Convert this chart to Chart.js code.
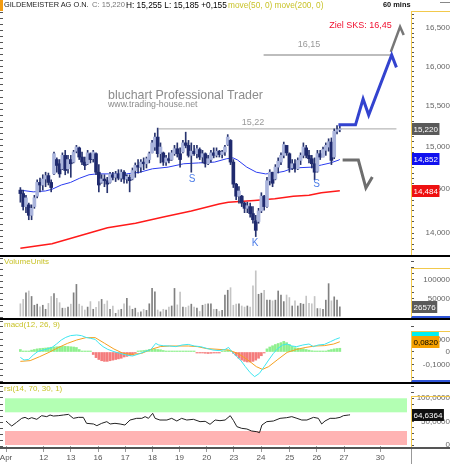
<!DOCTYPE html>
<html>
<head>
<meta charset="utf-8">
<title>Gildemeister 60 mins</title>
<script src="https://cdn.jsdelivr.net/npm/chart.js@4.4.1/dist/chart.umd.min.js"></script>
<style>
  html, body { margin: 0; padding: 0; background: #fff; }
  #wrap { position: relative; width: 450px; height: 464px; overflow: hidden; font-family: Arial, 'Liberation Sans', sans-serif; }
  #wrap canvas { position: absolute; left: 0; }
  .txt { position: absolute; white-space: nowrap; font-size: 8.5px; line-height: 10px; z-index: 3; }
  .sep { position: absolute; left: 0; width: 450px; height: 2px; background: #000; z-index: 4; }
  .axbox { position: absolute; left: 411px; width: 39px; box-sizing: border-box; border-left: 1px solid #f2c94c; border-top: 1px solid #f2c94c; z-index: 2; }
  .axbox.blue { border-bottom: 2px solid #2f55d8; }
</style>
</head>
<body>
<div id="wrap">
  <canvas id="priceChart" width="450" height="255" style="top:0"></canvas>
  <canvas id="volumeChart" width="450" height="61" style="top:257px"></canvas>
  <canvas id="macdChart" width="450" height="62" style="top:320px"></canvas>
  <canvas id="rsiChart" width="450" height="80" style="top:384px"></canvas>

  <!-- header line -->
  <div style="position:absolute;left:0;top:0;width:3px;height:11px;background:#f39c12"></div>
  <div class="txt" style="left:4px;top:0;font-size:7.4px;color:#222">GILDEMEISTER AG O.N.</div>
  <div class="txt" style="left:92px;top:0;font-size:7.6px;color:#777">C: 15,220</div>
  <div class="txt" style="left:126px;top:0;font-size:8.3px;color:#000">H: 15,255 L: 15,185 +0,155</div>
  <div class="txt" style="left:228px;top:0;font-size:8.3px;color:#c9c32a">move(50, 0) move(200, 0)</div>
  <div class="txt" style="left:383px;top:0;font-size:7.4px;font-weight:bold;color:#111">60 mins</div>
  <div style="position:absolute;left:440px;top:2px;width:10px;height:1px;background:#888"></div>

  <!-- watermark -->
  <div class="txt" style="left:108px;top:89px;font-size:12.4px;line-height:13px;color:#8c8c8c">bluchart Professional Trader</div>
  <div class="txt" style="left:108px;top:99px;font-size:8.8px;line-height:10px;color:#8c8c8c">www.trading-house.net</div>

  <!-- panel titles -->
  <div class="txt" style="left:4px;top:257px;font-size:8px;color:#c9c32a">VolumeUnits</div>
  <div class="txt" style="left:4px;top:320px;font-size:8px;color:#c9c32a">macd(12, 26, 9)</div>
  <div class="txt" style="left:4px;top:384px;font-size:8px;color:#c9c32a">rsi(14, 70, 30, 1)</div>

  <!-- right axis frames and panel separators -->
  <div class="axbox" style="top:11px;height:244px"></div>
  <div class="axbox blue" style="top:268px;height:50px"></div>
  <div class="axbox blue" style="top:331px;height:51px"></div>
  <div class="axbox" style="top:396px;height:51px"></div>
  <div class="sep" style="top:255px"></div>
  <div class="sep" style="top:318px"></div>
  <div class="sep" style="top:382px"></div>
  <div class="sep" style="top:447px;background:#555"></div>
  <div style="position:absolute;left:411px;top:449px;width:39px;height:15px;border-left:1px solid #999;box-sizing:border-box"></div>
</div>

<script>
// ---- hourly candles (EUR), one entry per bar ----
const candleOpen = [14.49, 14.45, 14.30, 14.32, 14.20, 14.30, 14.42, 14.58, 14.55, 14.62,
  14.66, 14.58, 14.68, 14.85, 14.80, 14.74, 14.90, 14.74, 14.85, 14.82,
  14.95, 14.99, 14.88, 14.82, 14.80, 14.92, 14.86, 14.92, 14.70, 14.58,
  14.62, 14.60, 14.58, 14.67, 14.64, 14.68, 14.63, 14.70, 14.62, 14.64,
  14.62, 14.72, 14.78, 14.76, 14.82, 14.80, 14.85, 14.93, 15.00, 15.12,
  14.92, 14.93, 14.82, 14.86, 14.85, 14.92, 14.98, 14.92, 14.94, 15.05,
  15.02, 14.90, 14.95, 14.92, 14.97, 14.88, 14.92, 14.80, 14.85, 14.93,
  14.90, 14.95, 14.91, 14.94, 15.03, 15.08, 14.82, 14.56, 14.42, 14.42,
  14.34, 14.28, 14.30, 14.22, 14.14, 14.13, 14.25, 14.42, 14.30, 14.60,
  14.70, 14.62, 14.76, 14.82, 14.90, 15.02, 14.92, 14.75, 14.80, 14.74,
  14.84, 14.90, 14.99, 14.90, 14.86, 14.80, 14.71, 14.92, 14.88, 14.96,
  15.00, 15.06, 14.88, 15.19, 15.21];
const candleHigh = [14.52, 14.49, 14.43, 14.34, 14.32, 14.43, 14.61, 14.63, 14.67, 14.70,
  14.69, 14.61, 14.94, 14.87, 14.85, 14.93, 14.96, 14.90, 14.90, 14.96,
  15.02, 15.00, 14.94, 14.88, 14.96, 14.93, 14.96, 14.93, 14.79, 14.67,
  14.67, 14.64, 14.70, 14.70, 14.71, 14.73, 14.73, 14.72, 14.67, 14.67,
  14.75, 14.81, 14.85, 14.85, 14.87, 14.88, 14.94, 15.08, 15.17, 15.23,
  15.05, 14.94, 14.90, 14.93, 14.96, 15.02, 15.05, 14.99, 15.08, 15.18,
  15.08, 15.05, 15.02, 15.02, 14.99, 14.96, 14.93, 14.90, 14.96, 14.99,
  14.99, 14.96, 14.96, 15.02, 15.15, 15.09, 14.85, 14.57, 14.53, 14.43,
  14.35, 14.35, 14.34, 14.30, 14.20, 14.28, 14.46, 14.43, 14.64, 14.73,
  14.70, 14.79, 14.87, 14.93, 15.06, 15.02, 14.93, 14.85, 14.85, 14.87,
  14.93, 15.05, 15.02, 14.96, 14.90, 14.87, 14.96, 14.96, 15.00, 15.05,
  15.10, 15.11, 15.22, 15.26, 15.255];
const candleLow = [14.35, 14.26, 14.23, 14.15, 14.15, 14.28, 14.40, 14.47, 14.49, 14.53,
  14.55, 14.47, 14.67, 14.70, 14.64, 14.73, 14.67, 14.69, 14.64, 14.81,
  14.93, 14.85, 14.79, 14.73, 14.79, 14.81, 14.82, 14.67, 14.47, 14.57,
  14.53, 14.46, 14.57, 14.61, 14.59, 14.61, 14.59, 14.57, 14.57, 14.47,
  14.61, 14.64, 14.69, 14.70, 14.73, 14.75, 14.81, 14.93, 14.96, 14.88,
  14.81, 14.78, 14.78, 14.81, 14.84, 14.90, 14.88, 14.76, 14.93, 14.99,
  14.88, 14.70, 14.90, 14.87, 14.85, 14.81, 14.76, 14.79, 14.82, 14.87,
  14.88, 14.88, 14.87, 14.90, 15.02, 14.79, 14.52, 14.38, 14.34, 14.30,
  14.23, 14.23, 14.18, 14.11, 13.96, 14.11, 14.23, 14.26, 14.29, 14.55,
  14.53, 14.61, 14.69, 14.79, 14.87, 14.90, 14.70, 14.73, 14.70, 14.73,
  14.79, 14.87, 14.87, 14.81, 14.75, 14.61, 14.70, 14.85, 14.88, 14.90,
  14.95, 14.79, 14.86, 15.16, 15.185];
const candleClose = [14.45, 14.30, 14.40, 14.20, 14.28, 14.40, 14.58, 14.55, 14.62, 14.66,
  14.58, 14.52, 14.92, 14.78, 14.68, 14.90, 14.72, 14.85, 14.80, 14.94,
  15.00, 14.88, 14.82, 14.78, 14.93, 14.85, 14.94, 14.70, 14.55, 14.62,
  14.60, 14.56, 14.68, 14.64, 14.68, 14.63, 14.70, 14.62, 14.65, 14.60,
  14.72, 14.78, 14.76, 14.82, 14.80, 14.86, 14.92, 15.05, 15.12, 14.92,
  15.00, 14.82, 14.87, 14.84, 14.93, 14.98, 14.92, 14.85, 15.05, 15.02,
  14.90, 14.95, 14.92, 14.98, 14.88, 14.92, 14.80, 14.86, 14.93, 14.90,
  14.95, 14.91, 14.94, 15.00, 15.12, 14.82, 14.56, 14.42, 14.48, 14.34,
  14.28, 14.31, 14.22, 14.15, 14.03, 14.25, 14.42, 14.30, 14.60, 14.70,
  14.57, 14.76, 14.83, 14.90, 15.03, 14.93, 14.75, 14.80, 14.74, 14.84,
  14.90, 15.00, 14.90, 14.86, 14.80, 14.70, 14.92, 14.88, 14.97, 15.02,
  15.065, 14.84, 15.19, 15.21, 15.22];
const volumeUnits = [35000, 47000, 65000, 70000, 55000, 31000, 34000, 27000, 31000, 20000,
  36000, 55000, 63000, 50000, 38000, 23000, 23000, 26000, 34000, 65000,
  88000, 34000, 29000, 18000, 26000, 41000, 20000, 25000, 41000, 47000,
  34000, 43000, 20000, 29000, 9000, 18000, 20000, 35000, 50000, 29000,
  20000, 23000, 11000, 13000, 20000, 17000, 35000, 77000, 68000, 18000,
  13000, 20000, 18000, 26000, 29000, 77000, 32000, 67000, 26000, 25000,
  29000, 34000, 26000, 23000, 14000, 31000, 34000, 35000, 35000, 20000,
  20000, 14000, 17000, 59000, 72000, 79000, 31000, 34000, 35000, 29000,
  26000, 29000, 26000, 84000, 125000, 61000, 64000, 72000, 45000, 45000,
  43000, 45000, 70000, 59000, 41000, 59000, 52000, 29000, 43000, 29000,
  36000, 34000, 56000, 36000, 35000, 55000, 22000, 22000, 20000, 45000,
  90000, 43000, 54000, 45000, 26576];

// ---- moving averages, read at turning points (bar index / price) ----
const ma50Index = [0, 4.6, 8.9, 11.3, 14.6, 17.9, 21.2, 24.5, 27.2, 37.8, 42.7, 47.1, 52.7, 58.3, 63.6, 69.3, 73.6, 75.9, 77.5, 80.8, 84.2, 87.5, 90.8, 94.1, 97.4, 104, 107.4, 110.7, 113.7, 114];
const ma50Value = [14.49, 14.47, 14.48, 14.50, 14.55, 14.58, 14.63, 14.67, 14.68, 14.68, 14.70, 14.74, 14.76, 14.80, 14.81, 14.82, 14.86, 14.87, 14.845, 14.76, 14.70, 14.68, 14.69, 14.71, 14.75, 14.76, 14.785, 14.81, 14.845, 14.852];
const ma200Index = [0, 11.3, 21.2, 31.1, 41.1, 51, 61, 70.9, 74.2, 83.5, 90.8, 97.4, 103, 107.4, 114];
const ma200Value = [13.83, 13.88, 13.97, 14.06, 14.11, 14.18, 14.25, 14.33, 14.35, 14.37, 14.39, 14.42, 14.43, 14.46, 14.484];

// ---- forecast paths and levels drawn into the price panel ----
const bullPathIndex = [113.5, 119.6, 122.3, 124.3, 132.5, 134.2];
const bullPathValue = [15.27, 15.27, 15.59, 15.39, 16.15, 15.99];
const bearPathIndex = [115, 120.6, 123.3, 125.6];
const bearPathValue = [14.845, 14.845, 14.515, 14.644];
const targetPathIndex = [132.2, 135.5, 136.8];
const targetPathValue = [16.19, 16.52, 16.41];
const levelValue = [15.22, 16.15];
const levelStart = [49.4, 86.8];
const levelEnd = [134.2, 132.2];

// ---- MACD / signal / histogram ----
const macdIndex = [0, 1.3, 3, 4.6, 6.3, 9.1, 11.3, 12.9, 14.6, 16.2, 17.9, 20.1, 21.8, 23.4, 25.1, 26.7, 27.8, 29.5, 31.2, 33.4, 35.6, 37.8, 40, 42.2, 44.4, 46.6, 48.3, 49.4, 51, 53.3, 55.5, 57.7, 59.9, 62.1, 64.3, 66.5, 68.7, 70.9, 73.1, 74.3, 75.4, 77, 78.7, 80.3, 82, 83.6, 85.3, 87, 88.6, 90.3, 91.9, 93.6, 95.2, 96.9, 98.6, 100.8, 103, 104.6, 106.3, 108.5, 110.7, 112.4, 114];
const macdValue = [-0.043, -0.064, -0.059, -0.024, 0.005, 0.021, 0.037, 0.064, 0.096, 0.117, 0.131, 0.136, 0.131, 0.117, 0.109, 0.101, 0.075, 0.043, 0.021, 0.003, -0.011, -0.024, -0.032, -0.016, 0.003, 0.021, 0.069, 0.056, 0.05, 0.048, 0.043, 0.056, 0.061, 0.048, 0.043, 0.029, 0.016, 0.011, 0.021, 0.037, 0.003, -0.032, -0.069, -0.117, -0.165, -0.197, -0.171, -0.117, -0.064, -0.011, 0.029, 0.056, 0.064, 0.048, 0.043, 0.056, 0.064, 0.043, 0.056, 0.061, 0.083, 0.101, 0.1142];
const signalIndex = [0, 3.5, 6.9, 10.2, 13.5, 16.8, 20.1, 23.4, 26.7, 30.1, 33.4, 36.7, 40, 43.3, 46.6, 49.9, 53.3, 59.9, 63.2, 66.5, 70.9, 74.3, 77.6, 80.9, 84.2, 86.4, 88.6, 91.9, 95.2, 98.6, 101.9, 105.2, 108.5, 111.8, 114];
const signalValue = [-0.075, -0.069, -0.037, -0.003, 0.035, 0.069, 0.096, 0.115, 0.115, 0.069, 0.024, -0.011, -0.019, -0.011, 0.021, 0.043, 0.048, 0.048, 0.043, 0.027, 0.021, 0.016, -0.011, -0.059, -0.117, -0.139, -0.117, -0.059, -0.003, 0.021, 0.037, 0.048, 0.051, 0.064, 0.082];
const macdHist = [0.02, 0.004, 0.004, 0.004, 0.015, 0.02, 0.025, 0.028, 0.03, 0.032,
  0.035, 0.038, 0.04, 0.042, 0.044, 0.045, 0.045, 0.044, 0.042, 0.04,
  0.036, 0.02, 0.005, 0.003, 0.002, 0.002, -0.02, -0.045, -0.06, -0.07,
  -0.075, -0.075, -0.07, -0.065, -0.06, -0.055, -0.05, -0.04, -0.035, -0.03,
  -0.025, -0.01, 0.005, 0.01, 0.012, 0.015, 0.02, 0.02, 0.022, 0.02,
  0.018, 0.012, 0.005, 0.003, 0.003, 0.002, 0.003, 0.004, 0.004, 0.005,
  0.004, 0.003, 0.002, -0.002, -0.005, -0.008, -0.01, -0.012, -0.01, -0.008,
  -0.005, -0.003, 0.005, 0.01, 0.015, 0.01, -0.01, -0.03, -0.05, -0.065,
  -0.075, -0.08, -0.08, -0.075, -0.065, -0.05, -0.03, -0.005, 0.025, 0.04,
  0.05, 0.06, 0.068, 0.075, 0.085, 0.075, 0.06, 0.045, 0.035, 0.03,
  0.025, 0.025, 0.02, 0.015, 0.01, 0.004, 0.003, 0.003, 0.003, 0.005,
  0.015, 0.02, 0.025, 0.028, 0.03];

// ---- RSI(14) ----
const rsiIndex = [0, 0.8, 1.9, 3.5, 5.2, 6.3, 7.4, 8.5, 10.2, 11.8, 13.5, 14.6, 15.7, 17.3, 19, 20.7, 22.3, 24, 25.6, 26.7, 29, 30.1, 31.7, 33.4, 34.5, 36.1, 37.8, 39.4, 41.1, 43.3, 45, 46.1, 47.2, 48.6, 49.4, 51, 53.3, 54.9, 56.6, 58.2, 59.9, 62.1, 64.3, 66, 67.6, 69.3, 70.9, 72.6, 74.3, 75.4, 76.5, 78.1, 79.8, 81.4, 83.1, 84, 84.8, 86.4, 88.6, 90.8, 93, 94.7, 96.4, 98, 99.7, 101.9, 103.5, 104.6, 105.7, 107.4, 109.1, 110.7, 111.8, 113.5, 114];
const rsiValue = [51.4, 46.4, 40.7, 48.5, 57.1, 59.2, 55.7, 58.5, 55.0, 62.8, 60.7, 64.2, 62.0, 62.8, 64.2, 65.6, 57.1, 59.2, 59.2, 46.4, 45.0, 41.4, 46.4, 50.0, 45.0, 46.4, 45.0, 42.8, 53.5, 57.1, 57.1, 60.7, 57.1, 67.8, 57.1, 53.5, 53.5, 57.1, 51.4, 57.1, 53.5, 55.0, 50.0, 50.7, 44.3, 53.5, 52.1, 53.5, 62.8, 52.1, 39.3, 35.7, 34.3, 30.0, 28.5, 26.4, 42.8, 50.0, 51.4, 57.1, 58.5, 60.7, 57.1, 53.5, 53.5, 59.2, 57.1, 45.0, 51.4, 57.1, 57.1, 59.2, 62.8, 64.2, 64.6364];
const rsiBands = [[70, 100], [0, 30]];

// ---- axis labels ----
const dayTicks = [0, 12.5, 21.5, 30.5, 39.5, 48.5, 57.5, 66.5, 75.5, 84.5, 94, 103, 112, 124];
const dayLabels = ['Apr', '12', '13', '16', '17', '18', '19', '20', '23', '24', '25', '26', '27', '30'];
const priceTicks = [14, 14.5, 15, 15.5, 16, 16.5];
const volumeTicks = [50000, 100000];
const macdTicks = [-0.1, 0, 0.1];
const rsiTicks = [0, 50, 100];

// visible bar range of every panel and candle colours
const X_MIN = -1, X_MAX = 134.2;
const UP_BODY = '#aab4dc', DOWN_BODY = '#1f2a6e', WICK = '#28346f';

const fmtPrice = v => v.toFixed(3).replace('.', ',');
const fmtDec4 = v => (v === 0 ? '0' : v.toFixed(4).replace('.', ','));
const isUp = i => candleClose[i] >= candleOpen[i];
const pairs = (xs, ys) => xs.map((x, k) => ({ x: x, y: ys[k] })); // zip index/value lists for the line datasets
const lastOf = arr => arr[arr.length - 1];

Chart.defaults.font.family = "Arial, 'Liberation Sans', sans-serif";
Chart.defaults.font.size = 8;
Chart.defaults.color = '#666';
Chart.defaults.animation = false;

// ticks every `step` so the axis shows the dotted marks, labels only on the majors
function axisTicks(min, max, step, majors, fmt) {
    const ticks = [];
    for (let k = Math.ceil(min / step); k * step <= max; k++) {
        const v = k * step;
        const m = majors.find(t => Math.abs(t - v) < step / 100);
        ticks.push(m !== undefined ? { value: m, text: fmt(m) } : { value: v, text: '' });
    }
    return ticks;
}

function xAxis(show) { // shared bar-index axis, only the rsi panel shows the dates
    return {
        type: 'linear', display: show, bounds: 'data',
        afterDataLimits: s => { s.min = X_MIN; s.max = X_MAX; }, // no user min/max so the arrow past the edge is not culled
        afterBuildTicks: s => { s.ticks = dayTicks.map(v => ({ value: v })); },
        afterFit: s => { s.paddingLeft = 0; s.paddingRight = 0; if (show) s.height = 18; },
        grid: { drawOnChartArea: false, tickLength: 6, color: '#999' },
        border: { display: false },
        ticks: { autoSkip: false, maxRotation: 0, padding: 1, color: '#555', callback: (v, i) => dayLabels[i] }
    };
}

function dashAxis(n) { // left edge dotted marks, no labels
    return {
        type: 'linear', position: 'left', min: 0, max: n,
        afterBuildTicks: s => { s.ticks = Array.from({ length: n + 1 }, (_, k) => ({ value: k })); },
        afterFit: s => { s.width = 3; s.paddingTop = 0; s.paddingBottom = 0; },
        grid: { drawOnChartArea: false, tickLength: 3, color: '#555' },
        border: { display: false },
        ticks: { display: false }
    };
}

function valueAxis(type, min, max, step, majors, fmt, pad) { // right hand value axis
    return {
        type: type, position: 'right', min: min, max: max,
        afterBuildTicks: s => { s.ticks = axisTicks(min, max, step, majors, fmt); },
        afterFit: s => { s.width = 39; s.paddingTop = 0; s.paddingBottom = 0; },
        grid: { drawOnChartArea: false, tickLength: 3, color: '#555' },
        border: { display: false },
        ticks: { autoSkip: false, crossAlign: 'far', padding: pad, color: '#666', callback: (v, i, t) => t[i].text }
    };
}

function tagPlugin(tags) { // coloured last-value boxes on the right axis
    return {
        id: 'valueTags',
        afterDraw(chart) {
            const c = chart.ctx, a = chart.chartArea, y = chart.scales.y;
            c.save();
            c.font = "8px Arial, 'Liberation Sans', sans-serif";
            c.textBaseline = 'middle';
            tags.forEach(t => {
                const py = Math.round(y.getPixelForValue(t.value));
                const w = c.measureText(t.text).width + 3;
                c.fillStyle = t.bg;
                c.fillRect(a.right + 1, py - 6, w, 12);
                c.fillStyle = t.fg;
                c.fillText(t.text, a.right + 2.5, py + 0.5);
            });
            c.restore();
        }
    };
}

function notePlugin(notes) { // text placed at bar index / price
    return {
        id: 'notes',
        afterDatasetsDraw(chart) {
            const c = chart.ctx, x = chart.scales.x, y = chart.scales.y;
            c.save();
            c.textBaseline = 'middle';
            notes.forEach(n => {
                c.font = n.size + "px Arial, 'Liberation Sans', sans-serif";
                c.fillStyle = n.color;
                c.textAlign = n.align || 'center';
                c.fillText(n.text, x.getPixelForValue(n.x), y.getPixelForValue(n.y));
            });
            c.restore();
        }
    };
}

function line(data, color, width, order, extra) { // plain line dataset, no points
    return Object.assign({
        type: 'line', data: data, borderColor: color, borderWidth: width, pointRadius: 0, tension: 0, order: order
    }, extra || {});
}

const baseOptions = (padTop, padBottom) => ({
    responsive: false,
    layout: { padding: { top: padTop, bottom: padBottom, left: 0, right: 0 } },
    plugins: { legend: { display: false }, tooltip: { enabled: false } }
});

document.addEventListener('DOMContentLoaded', () => {
    const last = candleClose.length - 1;

    // ---- price panel: candles, moving averages, forecast paths ----
    const priceOpts = baseOptions(12, 0);
    priceOpts.scales = {
        y: valueAxis('logarithmic', 13.755, 16.717, 0.0625, priceTicks, fmtPrice, 11),
        x: xAxis(false),
        yl: dashAxis(40)
    };
    const levels = levelValue.map((v, k) => line([{ x: levelStart[k], y: v }, { x: levelEnd[k], y: v }], k === 0 ? '#a6a6a6' : '#bdbdbd', k === 0 ? 1 : 2, 5));
    new Chart(document.getElementById('priceChart'), {
        type: 'bar',
        data: {
            datasets: levels.concat([
                line(pairs(ma200Index, ma200Value), '#ff1a1a', 1.5, 4),
                line(pairs(ma50Index, ma50Value), '#2b3cf0', 1, 4),
                { // wicks
                    data: candleLow.map((l, i) => ({ x: i, y: [l, candleHigh[i]] })),
                    backgroundColor: WICK, barThickness: 1, grouped: false, order: 3
                },
                { // bodies
                    data: candleOpen.map((o, i) => ({ x: i, y: [o, candleClose[i]] })),
                    backgroundColor: ctx => (isUp(ctx.dataIndex) ? UP_BODY : DOWN_BODY),
                    barThickness: 3, minBarLength: 1, grouped: false, order: 2
                },
                line(pairs(bearPathIndex, bearPathValue), '#6e6e6e', 3, 1),
                line(pairs(targetPathIndex, targetPathValue), '#777', 2.5, 1, { clip: false }),
                line(pairs(bullPathIndex, bullPathValue), '#3343cf', 3, 0)
            ])
        },
        options: priceOpts,
        plugins: [
            notePlugin([
                { x: 83, y: 15.30, text: '15,22', color: '#999', size: 9 },
                { x: 103, y: 16.28, text: '16,15', color: '#999', size: 9 },
                { x: 132.5, y: 16.54, text: 'Ziel SKS: 16,45', color: '#f01030', size: 9, align: 'right' },
                { x: 61.3, y: 14.62, text: 'S', color: '#4f7fe8', size: 10 },
                { x: 105.7, y: 14.56, text: 'S', color: '#4f7fe8', size: 10 },
                { x: 83.8, y: 13.89, text: 'K', color: '#4f7fe8', size: 10 }
            ]),
            tagPlugin([
                { value: candleClose[last], text: fmtPrice(candleClose[last]), bg: '#5a5a5a', fg: '#fff' },
                { value: lastOf(ma50Value), text: fmtPrice(lastOf(ma50Value)), bg: '#1010ee', fg: '#fff' },
                { value: lastOf(ma200Value), text: fmtPrice(lastOf(ma200Value)), bg: '#ee1111', fg: '#fff' }
            ])
        ]
    });

    // ---- volume panel ----
    const volOpts = baseOptions(1, 1);
    volOpts.scales = {
        y: valueAxis('linear', -1100, 160100, 50000 / 3, volumeTicks, v => String(v), 9),
        x: xAxis(false),
        yl: dashAxis(10)
    };
    new Chart(document.getElementById('volumeChart'), {
        type: 'bar',
        data: {
            datasets: [{
                data: volumeUnits.map((v, i) => ({ x: i, y: v })),
                backgroundColor: ctx => (isUp(ctx.dataIndex) ? '#808080' : '#c4c4c4'),
                barThickness: 1, grouped: false
            }]
        },
        options: volOpts,
        plugins: [tagPlugin([{ value: volumeUnits[last], text: String(volumeUnits[last]), bg: '#5a5a5a', fg: '#fff' }])]
    });

    // ---- macd panel ----
    const macdOpts = baseOptions(1, 1);
    macdOpts.scales = {
        y: valueAxis('linear', -0.232, 0.248, 0.05, macdTicks, fmtDec4, 9),
        x: xAxis(false),
        yl: dashAxis(10)
    };
    new Chart(document.getElementById('macdChart'), {
        type: 'bar',
        data: {
            datasets: [
                line(pairs(macdIndex, macdValue), '#3ee6f0', 1, 0),
                line(pairs(signalIndex, signalValue), '#f5a020', 1, 1),
                {
                    data: macdHist.map((h, i) => ({ x: i, y: h })),
                    backgroundColor: ctx => (macdHist[ctx.dataIndex] >= 0 ? '#8ef08e' : '#f47c7c'),
                    barThickness: 2, minBarLength: 1, grouped: false, order: 2
                }
            ]
        },
        options: macdOpts,
        plugins: [tagPlugin([
            { value: lastOf(macdValue), text: fmtDec4(lastOf(macdValue)), bg: '#00f0f0', fg: '#000' },
            { value: lastOf(signalValue), text: fmtDec4(lastOf(signalValue)), bg: '#f5a000', fg: '#000' }
        ])]
    });

    // ---- rsi panel with the date axis ----
    const rsiOpts = baseOptions(2, 0);
    rsiOpts.scales = {
        y: valueAxis('linear', -2.1, 126.3, 12.5, rsiTicks, fmtDec4, 3),
        x: xAxis(true),
        yl: dashAxis(10)
    };
    new Chart(document.getElementById('rsiChart'), {
        type: 'line',
        data: { datasets: [line(pairs(rsiIndex, rsiValue), '#222', 1, 0)] },
        options: rsiOpts,
        plugins: [
            { // overbought / oversold zones
                id: 'bands',
                beforeDatasetsDraw(chart) {
                    const c = chart.ctx, a = chart.chartArea, y = chart.scales.y;
                    const colors = ['#b3ffb3', '#ffb3b3'];
                    rsiBands.forEach((b, k) => {
                        const top = y.getPixelForValue(b[1]), bottom = y.getPixelForValue(b[0]);
                        c.fillStyle = colors[k];
                        c.fillRect(a.left + 2, top, a.right - a.left - 6, bottom - top);
                    });
                }
            },
            tagPlugin([{ value: lastOf(rsiValue), text: fmtDec4(lastOf(rsiValue)), bg: '#111', fg: '#fff' }])
        ]
    });
});
</script>
</body>
</html>
